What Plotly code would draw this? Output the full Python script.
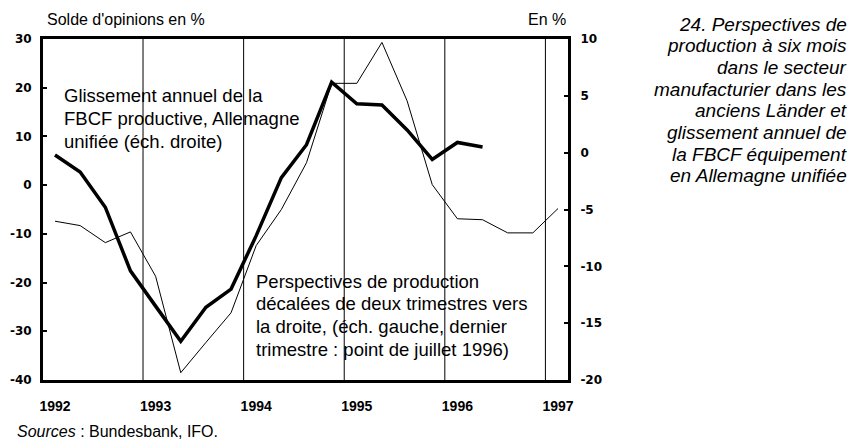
import plotly.graph_objects as go

# ---------------- data ----------------
quarters = [
    "1992 T1", "1992 T2", "1992 T3", "1992 T4",
    "1993 T1", "1993 T2", "1993 T3", "1993 T4",
    "1994 T1", "1994 T2", "1994 T3", "1994 T4",
    "1995 T1", "1995 T2", "1995 T3", "1995 T4",
    "1996 T1", "1996 T2", "1996 T3", "1996 T4",
    "1997 T1",
]
# Perspectives de production (décalées de deux trimestres), échelle gauche
perspectives = [
    -7.4, -8.3, -11.8, -9.6,
    -18.7, -38.5, -32.3, -26.2,
    -12.4, -5.0, 4.6, 20.9,
    20.9, 29.3, 17.3, 0.1,
    -6.9, -7.1, -9.8, -9.8,
    -4.8,
]
# Glissement annuel de la FBCF productive, échelle droite
fbcf_quarters = quarters[:18]
fbcf = [
    -0.2, -1.7, -4.8, -10.4,
    -13.5, -16.6, -13.6, -12.0,
    -7.3, -2.2, 0.7, 6.2,
    4.3, 4.2, 2.0, -0.6,
    0.9, 0.5,
]
year_labels = ["1992", "1993", "1994", "1995", "1996", "1997"]
left_ticks = [-40, -30, -20, -10, 0, 10, 20, 30]
right_ticks = [-20, -15, -10, -5, 0, 5, 10]

title_lines = [
    "24. Perspectives de",
    "production à six mois",
    "dans le secteur",
    "manufacturier dans les",
    "anciens Länder et",
    "glissement annuel de",
    "la FBCF équipement",
    "en Allemagne unifiée",
]
label_fbcf = ["Glissement annuel de la", "FBCF productive, Allemagne", "unifiée (éch. droite)"]
label_persp = [
    "Perspectives de production",
    "décalées de deux trimestres vers",
    "la droite, (éch. gauche, dernier",
    "trimestre : point de juillet 1996)",
]


def qpos(label):
    y, q = label.split(" T")
    return int(y) + (int(q) - 1) / 4


x_persp = [qpos(q) for q in quarters]
x_fbcf = [qpos(q) for q in fbcf_quarters]
year_vals = [int(y) for y in year_labels]
year_boundaries = [int(y) + 0.875 for y in year_labels[:-1]]

# ---------------- geometry ----------------
# the page body has an 8px margin: the figure starts at (8, 8) in the window
OX, OY = 8, 8
W, H = 856 - OX, 442 - OY
L, R, T, B = 43 - OX, 288, 39 - OY, 62
PW, PH = W - L - R, H - T - B


def px(xp):
    return (xp - OX - L) / PW


def py(yp):
    return (H - B - (yp - OY)) / PH


fig = go.Figure()
fig.add_trace(go.Scatter(x=x_persp, y=perspectives, mode="lines",
                         line=dict(color="black", width=1), yaxis="y", hoverinfo="skip"))
fig.add_trace(go.Scatter(x=x_fbcf, y=fbcf, mode="lines",
                         line=dict(color="black", width=3.5), yaxis="y2", hoverinfo="skip"))

for xb in year_boundaries:
    fig.add_shape(type="line", x0=xb, x1=xb, xref="x", y0=0, y1=1, yref="paper",
                  line=dict(color="black", width=1), layer="below")

tick_font_y = dict(family="DejaVu Sans", size=12, color="black", weight="bold")
x0 = 1992 - (55 - 43) / 100.6
fig.update_layout(
    width=W, height=H,
    margin=dict(l=L, r=R, t=T, b=B, pad=0, autoexpand=False),
    paper_bgcolor="white", plot_bgcolor="white",
    showlegend=False,
    xaxis=dict(
        range=[x0, x0 + PW / 100.6], automargin=False,
        tickmode="array", tickvals=year_vals, ticktext=year_labels,
        ticks="", showgrid=False, zeroline=False,
        showline=True, mirror=True, linewidth=3, linecolor="black",
        tickfont=dict(family="Liberation Sans", size=14, color="black", weight="bold"),
        ticklabelstandoff=11,
    ),
    yaxis=dict(
        range=[-40, 30], automargin=False,
        tickmode="array", tickvals=left_ticks, ticktext=[str(v) for v in left_ticks],
        ticks="inside", ticklen=4, tickwidth=2, tickcolor="black",
        showgrid=False, zeroline=False,
        showline=True, linewidth=3, linecolor="black",
        tickfont=tick_font_y,
        ticklabelstandoff=6,
    ),
    yaxis2=dict(
        range=[-20, 10], automargin=False,
        tickmode="array", tickvals=right_ticks, ticktext=[str(v) for v in right_ticks],
        overlaying="y", side="right",
        ticks="inside", ticklen=4, tickwidth=2, tickcolor="black",
        showgrid=False, zeroline=False,
        showline=True, linewidth=3, linecolor="black",
        tickfont=tick_font_y,
        ticklabelstandoff=7,
    ),
)

ann = []
ann.append(dict(text="Solde d'opinions en %", x=px(45), y=py(19), xanchor="left", yanchor="middle",
                font=dict(family="Liberation Sans", size=16, color="black")))
ann.append(dict(text="En %", x=px(568), y=py(19), xanchor="right", yanchor="middle",
                font=dict(family="Liberation Sans", size=16, color="black")))
for i, line in enumerate(label_fbcf):
    ann.append(dict(text=line, x=px(62), y=py(96 + 22.5 * i), xanchor="left", yanchor="middle",
                    font=dict(family="Liberation Sans", size=18.5, color="black")))
for i, line in enumerate(label_persp):
    ann.append(dict(text=line, x=px(254), y=py(281 + 22.8 * i), xanchor="left", yanchor="middle",
                    font=dict(family="Liberation Sans", size=18.5, color="black")))
for i, line in enumerate(title_lines):
    ann.append(dict(text="<i>" + line + "</i>", x=px(849), y=py(24 + 21.67 * i), xanchor="right",
                    yanchor="middle",
                    font=dict(family="Liberation Sans", size=19, color="black")))
ann.append(dict(text="<i>Sources</i> : Bundesbank, IFO.", x=px(15), y=py(441.5), xanchor="left",
                yanchor="bottom", font=dict(family="Liberation Sans", size=16, color="black")))

for a in ann:
    a.update(xref="paper", yref="paper", showarrow=False, align="left")
fig.update_layout(annotations=ann)

fig.write_html("out.html")
